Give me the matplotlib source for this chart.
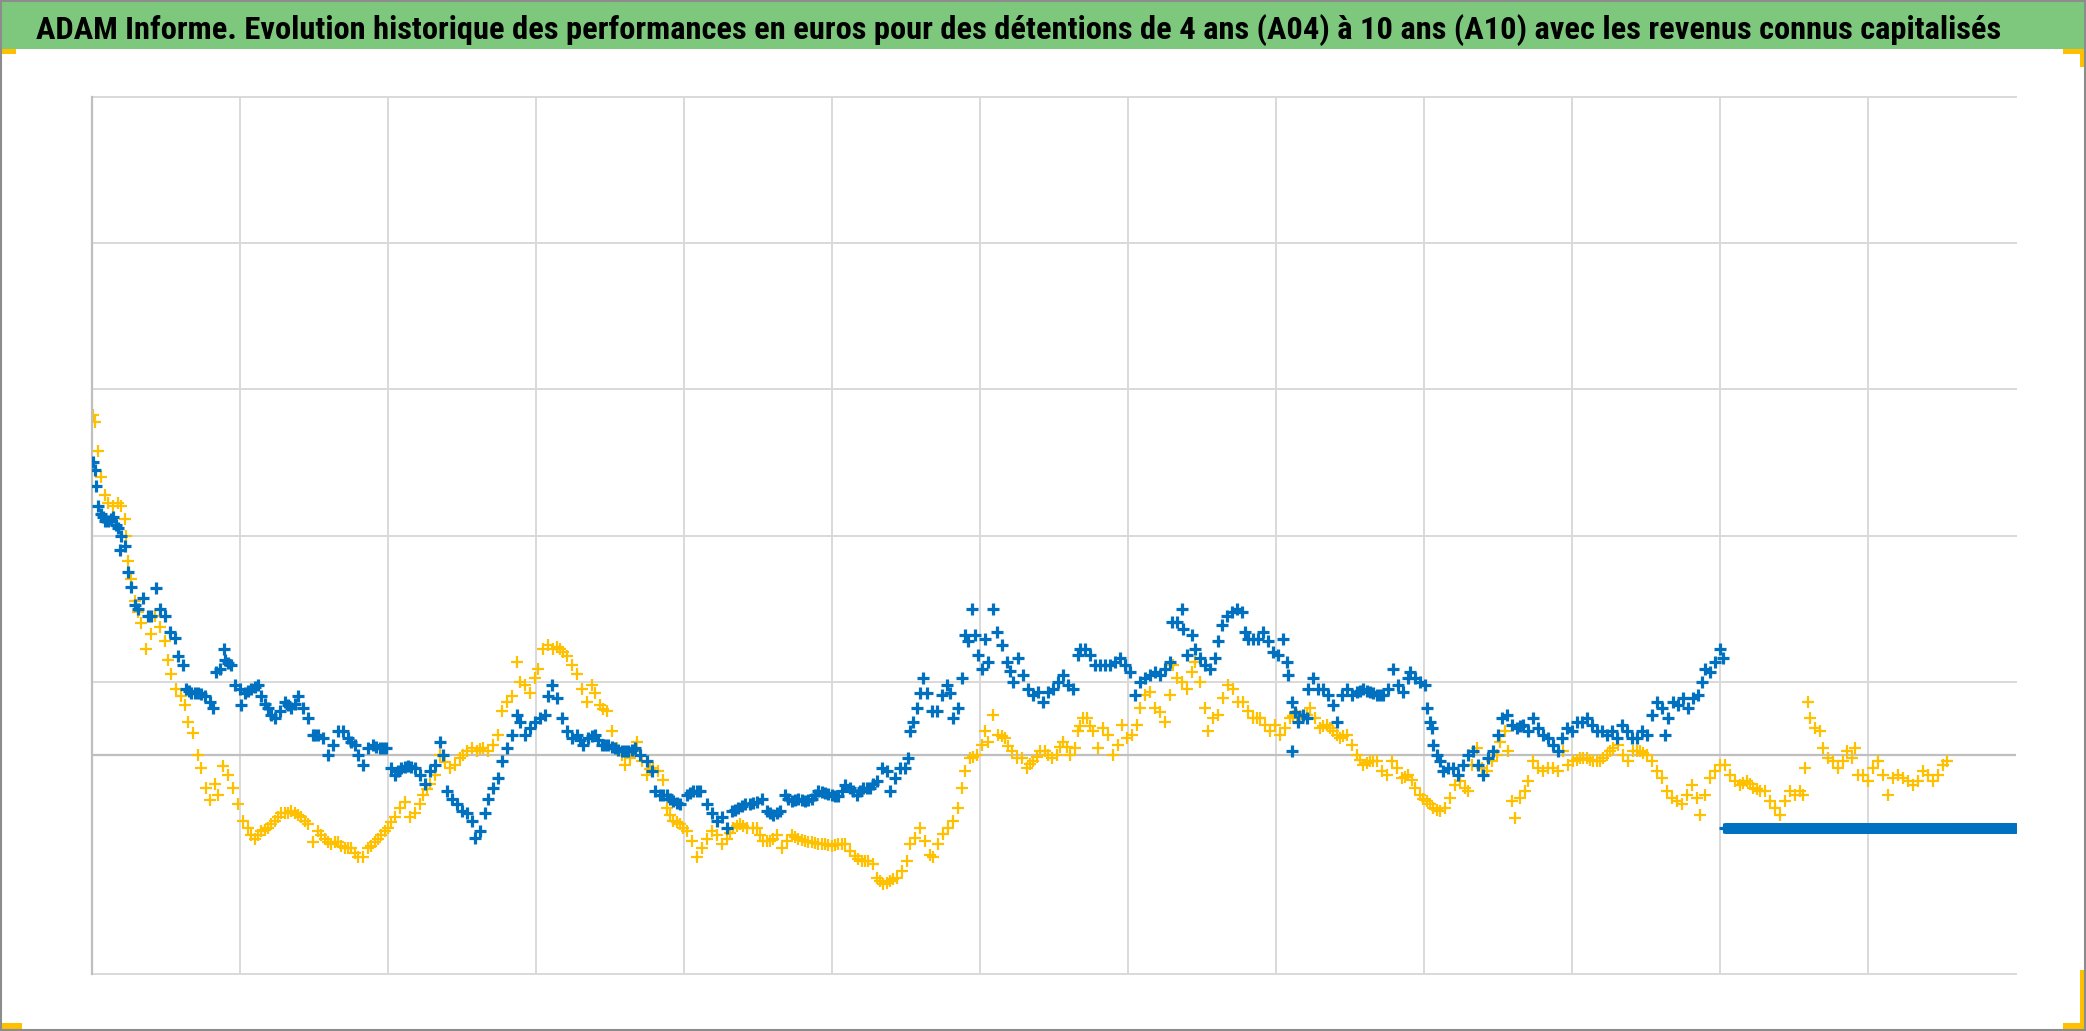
import matplotlib
matplotlib.use("Agg")
import matplotlib.pyplot as plt
from matplotlib.patches import Rectangle
from matplotlib import font_manager
import numpy as np

TITLE = ("ADAM Informe. Evolution historique des performances en euros pour des détentions "
         "de 4 ans (A04) à 10 ans (A10) avec les revenus connus capitalisés")

# x = years since start of history, y = performance in %
YEARS = list(range(1, 13))
Y_GRID = [-60, 20, 60, 100, 140, 180]

# A04 (yellow)
a04 = [
    (0.005, 93), (0.018, 91), (0.041, 83), (0.063, 76), (0.086, 71), (0.108, 69), (0.142, 68),
    (0.176, 69), (0.198, 68), (0.221, 64.5), (0.232, 60), (0.243, 53), (0.266, 48), (0.288, 42),
    (0.311, 39), (0.333, 36), (0.367, 29), (0.401, 33), (0.423, 38), (0.457, 35), (0.491, 31),
    (0.514, 26), (0.536, 22), (0.570, 18), (0.604, 16), (0.626, 13.6), (0.649, 9), (0.682, 6),
    (0.716, 0), (0.739, -3.6), (0.773, -9), (0.795, -12.5), (0.829, -8), (0.851, -11), (0.885, -3),
    (0.919, -5.5), (0.953, -9), (0.986, -13.6), (1.020, -18), (1.054, -20), (1.077, -22), (1.099, -23),
    (1.122, -22), (1.144, -21), (1.167, -20.5), (1.189, -20), (1.212, -19), (1.234, -18), (1.257, -17),
    (1.279, -16), (1.302, -16), (1.324, -16), (1.347, -15.5), (1.369, -16), (1.392, -16.5), (1.414, -17),
    (1.437, -18), (1.459, -19), (1.493, -24), (1.527, -21), (1.550, -22), (1.572, -23), (1.595, -24),
    (1.617, -24.5), (1.640, -24), (1.662, -24), (1.685, -25), (1.707, -25.5), (1.730, -25.5),
    (1.752, -25.5), (1.775, -27), (1.797, -28), (1.831, -28), (1.865, -25.5), (1.888, -25), (1.910, -24),
    (1.933, -23), (1.955, -22), (1.977, -21), (2.000, -20), (2.023, -18.5), (2.045, -17), (2.079, -14.5),
    (2.113, -13), (2.146, -17), (2.180, -16), (2.216, -13.6), (2.239, -11), (2.262, -9.5), (2.284, -8),
    (2.317, -5.5), (2.351, 0), (2.385, -2), (2.419, -3.6), (2.453, -2.7), (2.486, -1), (2.509, 0),
    (2.532, 1), (2.565, 1.8), (2.599, 1), (2.622, 1.5), (2.644, 1.8), (2.678, 1), (2.712, 2.7),
    (2.745, 5.5), (2.768, 12), (2.802, 14.5), (2.836, 16), (2.869, 25.5), (2.892, 20), (2.926, 19),
    (2.959, 17), (2.993, 21), (3.016, 23.6), (3.050, 29), (3.083, 30), (3.117, 29), (3.140, 29.5),
    (3.162, 29), (3.185, 28), (3.207, 27), (3.241, 24.5), (3.275, 22), (3.309, 18), (3.342, 14.5),
    (3.376, 19), (3.399, 17), (3.432, 13.6), (3.455, 12.5), (3.477, 12), (3.511, 6.4), (3.545, 1.8),
    (3.579, 0), (3.601, -2.7), (3.635, -1), (3.658, 1), (3.680, 3.6), (3.714, -1.8), (3.748, -5.5),
    (3.770, -4), (3.793, -3.6), (3.827, -4.5), (3.860, -7), (3.883, -14.5), (3.905, -16.5), (3.928, -18),
    (3.950, -18.5), (3.973, -19), (3.995, -20), (4.018, -21), (4.052, -23.6), (4.086, -28), (4.119, -25.5),
    (4.153, -23), (4.187, -21), (4.221, -22), (4.254, -24.5), (4.288, -23), (4.311, -21.5), (4.333, -20),
    (4.356, -19.5), (4.378, -19), (4.401, -19.5), (4.423, -20), (4.468, -20), (4.491, -20), (4.514, -22),
    (4.536, -23.6), (4.559, -23.6), (4.581, -23.6), (4.604, -23), (4.626, -22), (4.660, -25.5),
    (4.694, -23.6), (4.727, -22), (4.750, -22.5), (4.772, -23), (4.795, -23.3), (4.818, -23.6),
    (4.840, -23.8), (4.863, -24), (4.885, -24.2), (4.908, -24.5), (4.930, -24.5), (4.953, -24.5),
    (4.975, -24.8), (4.998, -25), (5.020, -24.8), (5.043, -24.5), (5.065, -24.5), (5.088, -24.5),
    (5.122, -26.4), (5.155, -27.7), (5.178, -28.5), (5.200, -29), (5.223, -29), (5.245, -29),
    (5.279, -30), (5.302, -33.6), (5.324, -34.5), (5.347, -35.5), (5.370, -35), (5.392, -34.5),
    (5.414, -34), (5.437, -33.6), (5.471, -31.8), (5.505, -29), (5.527, -24.5), (5.561, -22.7),
    (5.595, -20), (5.628, -23.6), (5.662, -27.3), (5.685, -28), (5.719, -24.5), (5.752, -21.8),
    (5.786, -20), (5.820, -18), (5.854, -14.5), (5.876, -9), (5.899, -4.5), (5.932, -1), (5.955, -0.5),
    (5.977, 0), (6.011, 2.7), (6.034, 6.4), (6.056, 3.6), (6.090, 11), (6.124, 5.5), (6.146, 5),
    (6.169, 4.5), (6.192, 2.5), (6.214, 1), (6.248, -1), (6.282, -1), (6.315, -3.6), (6.338, -2.5),
    (6.360, -1.8), (6.383, -0.5), (6.405, 1), (6.439, 1), (6.462, 0), (6.484, -1), (6.518, 0),
    (6.541, 2), (6.563, 3.6), (6.586, 2), (6.608, 0), (6.642, 1.8), (6.664, 6.4), (6.676, 8),
    (6.698, 10), (6.721, 10), (6.743, 8), (6.766, 6.4), (6.800, 1.8), (6.833, 7.3), (6.867, 5.5),
    (6.901, 0), (6.935, 2.7), (6.957, 8.2), (6.991, 4.5), (7.025, 5.5), (7.059, 8.2), (7.081, 12.7),
    (7.115, 16.4), (7.149, 17.3), (7.182, 12.7), (7.216, 11.8), (7.250, 9), (7.284, 16.4), (7.306, 24.5),
    (7.329, 21), (7.363, 20), (7.396, 18), (7.430, 22.7), (7.453, 25.5), (7.487, 20), (7.520, 12.7),
    (7.543, 6.4), (7.577, 10), (7.611, 11), (7.644, 15.5), (7.678, 19), (7.712, 18), (7.746, 14.5),
    (7.779, 14.5), (7.813, 12), (7.847, 10), (7.870, 10), (7.892, 10), (7.926, 8.2), (7.959, 6.4),
    (7.993, 8.2), (8.027, 5.5), (8.061, 7.3), (8.095, 10), (8.118, 10.5), (8.140, 11), (8.163, 10.5),
    (8.185, 10), (8.208, 11), (8.230, 12.7), (8.264, 10), (8.297, 7.3), (8.320, 7.8), (8.342, 8.2),
    (8.365, 7.3), (8.387, 6.4), (8.410, 5.5), (8.432, 4.5), (8.455, 5), (8.477, 5.5), (8.511, 2.7),
    (8.545, 0), (8.568, -1.5), (8.590, -2.7), (8.613, -2.2), (8.635, -1.8), (8.658, -1.8), (8.680, -1.8),
    (8.714, -4.5), (8.748, -5.5), (8.782, -1.8), (8.816, -3.6), (8.849, -6.4), (8.872, -6), (8.894, -5.5),
    (8.917, -7), (8.939, -9), (8.973, -11), (8.995, -12), (9.018, -12.7), (9.040, -13.6), (9.063, -14.5),
    (9.085, -15), (9.108, -15.5), (9.141, -14.5), (9.175, -11.8), (9.209, -8.2), (9.243, -7.3),
    (9.277, -9), (9.299, -10), (9.322, -2.7), (9.355, 1.8), (9.389, -3.6), (9.423, -4.5), (9.457, -1.8),
    (9.491, 0), (9.513, 3.6), (9.547, 6.4), (9.570, 1), (9.592, -12.7), (9.615, -17.3), (9.648, -11.8),
    (9.682, -10), (9.705, -7.3), (9.738, -1.8), (9.772, -3.6), (9.806, -4.5), (9.840, -3.6),
    (9.874, -3.6), (9.907, -4.5), (9.941, 1), (9.975, -2.7), (10.009, -1.8), (10.032, -1.4),
    (10.054, -1), (10.077, -1), (10.099, -1), (10.122, -1.4), (10.144, -1.8), (10.167, -1.8),
    (10.189, -1.8), (10.212, -1), (10.234, 0), (10.257, 1), (10.279, 1.8), (10.313, 2.7), (10.347, 0),
    (10.381, -1.8), (10.414, 1), (10.437, 1), (10.459, 1), (10.482, 0.5), (10.504, 0), (10.538, -1.8),
    (10.572, -4.5), (10.606, -6.4), (10.639, -10), (10.673, -11.8), (10.707, -12.7), (10.741, -13.6),
    (10.775, -11), (10.808, -8.2), (10.842, -11.8), (10.865, -16.4), (10.899, -11), (10.932, -6.4),
    (10.966, -4.5), (11.000, -2.7), (11.034, -2.7), (11.068, -5.5), (11.101, -7.3), (11.135, -8.2),
    (11.158, -7.8), (11.180, -7.3), (11.203, -8), (11.225, -9), (11.248, -9.5), (11.270, -10),
    (11.304, -10), (11.338, -12.7), (11.372, -14.5), (11.405, -16.4), (11.439, -12.7), (11.473, -10),
    (11.507, -11), (11.541, -10), (11.563, -11), (11.574, -3.6), (11.597, 14.5), (11.608, 10),
    (11.642, 7.3), (11.676, 6.4), (11.698, 1.8), (11.732, -1), (11.766, -1.8), (11.799, -3.6),
    (11.833, -1.8), (11.856, 1), (11.890, -1), (11.912, 1.8), (11.935, -5.5), (11.968, -5.5),
    (12.002, -7.3), (12.036, -3.6), (12.070, -1.8), (12.104, -5.5), (12.137, -11), (12.171, -6.4),
    (12.205, -5.5), (12.239, -6.4), (12.273, -7.3), (12.306, -8.2), (12.340, -7.3), (12.374, -4.5),
    (12.408, -5.5), (12.441, -7.3), (12.475, -5.5), (12.509, -2.7), (12.532, -1.8),
]

# A10 (blue)
a10 = [
    (0.005, 80), (0.018, 78), (0.029, 73.6), (0.041, 68), (0.058, 66), (0.074, 65), (0.091, 64),
    (0.108, 64), (0.125, 64.5), (0.142, 65), (0.159, 63), (0.176, 62), (0.187, 56), (0.198, 60),
    (0.221, 57), (0.243, 50), (0.266, 46), (0.288, 41), (0.311, 40), (0.345, 43), (0.378, 38),
    (0.401, 38), (0.435, 45.5), (0.457, 40), (0.491, 38), (0.525, 33.6), (0.559, 32), (0.581, 27),
    (0.615, 24.5), (0.637, 18), (0.654, 17.5), (0.671, 17), (0.694, 17), (0.716, 17), (0.739, 16.5),
    (0.761, 16), (0.795, 14.5), (0.818, 12.7), (0.840, 22.7), (0.863, 23.6), (0.892, 29), (0.901, 26),
    (0.919, 25), (0.941, 24.5), (0.964, 19), (0.998, 18), (1.009, 13.6), (1.032, 17), (1.054, 17.5),
    (1.077, 18), (1.099, 18.5), (1.122, 19), (1.144, 16), (1.167, 14), (1.189, 12.7), (1.212, 11),
    (1.234, 10), (1.268, 12), (1.302, 14.5), (1.325, 13.5), (1.347, 12.7), (1.369, 14), (1.392, 16),
    (1.426, 12.7), (1.459, 10), (1.493, 5.5), (1.510, 5.5), (1.527, 5.5), (1.561, 4.5), (1.595, 0),
    (1.628, 2.7), (1.662, 6.4), (1.696, 6.4), (1.730, 4.5), (1.752, 3.5), (1.775, 2.7), (1.797, 0),
    (1.831, -2.7), (1.865, 1.8), (1.899, 2.7), (1.922, 2.2), (1.944, 1.8), (1.966, 1.8), (1.989, 1.8),
    (2.023, -3.6), (2.045, -5.5), (2.068, -4.5), (2.090, -3.6), (2.113, -3.4), (2.135, -3.2),
    (2.158, -3.4), (2.180, -3.6), (2.216, -5.5), (2.250, -8), (2.284, -4.5), (2.317, -2.7), (2.351, 3.6),
    (2.374, 0), (2.396, -10), (2.430, -12), (2.464, -13.6), (2.498, -15.5), (2.532, -16), (2.565, -18),
    (2.588, -22.7), (2.622, -21), (2.655, -16), (2.678, -12), (2.712, -9), (2.745, -6.4), (2.768, -1.8),
    (2.802, 1.8), (2.836, 5.5), (2.869, 11), (2.892, 9), (2.926, 5.5), (2.959, 7.3), (2.993, 9),
    (3.027, 10), (3.061, 11), (3.083, 16), (3.106, 19), (3.140, 15.5), (3.173, 10), (3.207, 6.4),
    (3.241, 4.5), (3.275, 5.5), (3.298, 4), (3.320, 2.7), (3.354, 4.5), (3.376, 5), (3.399, 5.5),
    (3.421, 4), (3.444, 2.7), (3.466, 2.7), (3.489, 2.7), (3.511, 2.2), (3.534, 1.8), (3.556, 1.4),
    (3.579, 1), (3.601, 1), (3.624, 1), (3.646, 1.4), (3.669, 1.8), (3.703, 0), (3.748, -1.8),
    (3.781, -4.5), (3.804, -10), (3.838, -11), (3.860, -11), (3.883, -11), (3.905, -12), (3.928, -12.7),
    (3.950, -13.2), (3.973, -13.6), (4.018, -11), (4.040, -10.5), (4.063, -10), (4.085, -10),
    (4.108, -10), (4.153, -13.6), (4.187, -16), (4.221, -18), (4.254, -17), (4.288, -20), (4.322, -15.5),
    (4.345, -15), (4.367, -14.5), (4.390, -14), (4.412, -13.6), (4.446, -13.6), (4.468, -13.3),
    (4.491, -13), (4.525, -12), (4.559, -15.5), (4.581, -16), (4.604, -16.4), (4.626, -16),
    (4.649, -15.5), (4.682, -11), (4.705, -12), (4.727, -12.7), (4.750, -12.3), (4.772, -12),
    (4.795, -12.3), (4.818, -12.7), (4.840, -12.3), (4.863, -12), (4.885, -11), (4.908, -10),
    (4.930, -10.3), (4.953, -10.5), (4.975, -10.8), (4.998, -11), (5.020, -11.2), (5.043, -11.4),
    (5.065, -10), (5.088, -8.2), (5.122, -9), (5.145, -10), (5.167, -11), (5.190, -10), (5.212, -9),
    (5.235, -9), (5.257, -9), (5.280, -8), (5.302, -7.3), (5.336, -3.6), (5.369, -4.5), (5.392, -10),
    (5.426, -6.4), (5.459, -3.6), (5.493, -3.6), (5.516, -1), (5.527, 6.4), (5.550, 9), (5.572, 12.7),
    (5.595, 17), (5.617, 21), (5.640, 17), (5.674, 12), (5.707, 12), (5.741, 16.4), (5.775, 19),
    (5.797, 17), (5.820, 10), (5.854, 12.7), (5.876, 21), (5.899, 32.7), (5.921, 31), (5.944, 40),
    (5.966, 32.7), (5.989, 27.3), (6.011, 23.6), (6.034, 31.8), (6.056, 25.5), (6.090, 40),
    (6.113, 33.6), (6.146, 30), (6.180, 25.5), (6.203, 23), (6.225, 20), (6.259, 26.4), (6.293, 21.8),
    (6.327, 18), (6.360, 16.4), (6.394, 17.3), (6.428, 14.5), (6.462, 17.3), (6.495, 18), (6.529, 20),
    (6.563, 21.8), (6.597, 19), (6.631, 18), (6.664, 27.3), (6.676, 29), (6.710, 29), (6.743, 27.3),
    (6.777, 24.5), (6.811, 24.5), (6.845, 24.5), (6.879, 24.5), (6.912, 25.5), (6.946, 26.4),
    (6.980, 24.5), (7.014, 22.7), (7.047, 16.4), (7.081, 20), (7.115, 21), (7.149, 21.8), (7.182, 22.7),
    (7.216, 21.8), (7.250, 23.6), (7.284, 25.5), (7.295, 36.4), (7.329, 36.4), (7.363, 40),
    (7.374, 34.5), (7.396, 27.3), (7.430, 32.7), (7.453, 29), (7.487, 26.4), (7.520, 24.5),
    (7.554, 23.6), (7.588, 26.4), (7.611, 31), (7.633, 35.5), (7.667, 38), (7.701, 39), (7.735, 40),
    (7.768, 39), (7.791, 33.6), (7.813, 31.8), (7.847, 31.8), (7.881, 31.8), (7.915, 33.6), (7.949, 31),
    (7.982, 28), (8.016, 27.3), (8.050, 31.8), (8.073, 25.5), (8.084, 21.8), (8.106, 14.5), (8.110, 1),
    (8.129, 11.8), (8.152, 9), (8.185, 11), (8.208, 10), (8.219, 18), (8.253, 21), (8.286, 18),
    (8.320, 18), (8.354, 16.4), (8.388, 13.6), (8.410, 9), (8.444, 16.4), (8.478, 18), (8.512, 16.4),
    (8.545, 17.3), (8.568, 17.5), (8.590, 18), (8.613, 17.5), (8.635, 17.3), (8.658, 17), (8.680, 16.4),
    (8.703, 16.4), (8.726, 16.4), (8.759, 18), (8.793, 23.6), (8.827, 19), (8.861, 17.3), (8.894, 21),
    (8.905, 22.7), (8.939, 21), (8.973, 20), (9.006, 19), (9.018, 12.7), (9.040, 9), (9.051, 7.3),
    (9.063, 2.7), (9.085, 0), (9.108, -1.8), (9.130, -4.5), (9.164, -3.6), (9.198, -3.6), (9.232, -5.5),
    (9.266, -2.7), (9.299, 0), (9.333, 1), (9.367, -2.7), (9.401, -5.5), (9.434, -1), (9.468, 1),
    (9.502, 5.5), (9.524, 10), (9.558, 11), (9.592, 8.2), (9.626, 7.3), (9.648, 7.8), (9.671, 8.2),
    (9.705, 6.4), (9.738, 10), (9.772, 7.3), (9.806, 5.5), (9.840, 4.5), (9.874, 2.7), (9.907, 1),
    (9.930, 4.5), (9.964, 7.3), (9.998, 6.4), (10.032, 9), (10.065, 9), (10.099, 10), (10.133, 8.2),
    (10.167, 6.4), (10.200, 6.4), (10.234, 5.5), (10.268, 6.4), (10.302, 4.5), (10.335, 8.2),
    (10.369, 6.4), (10.403, 4.5), (10.437, 4.5), (10.471, 6.4), (10.504, 5.5), (10.538, 11),
    (10.572, 14.5), (10.606, 12.7), (10.628, 5.5), (10.651, 10), (10.684, 14.5), (10.718, 13.6),
    (10.752, 15.5), (10.786, 12.7), (10.819, 15.5), (10.853, 16.4), (10.876, 20), (10.898, 23.6),
    (10.932, 22.7), (10.966, 25.5), (11.000, 29), (11.022, 26.4),
]

# after the last known value both series sit on a flat -20 level
FLAT_LEVEL = -20
a10_flat_start, a04_flat_start, flat_end = 11.03, 12.55, 13.0

YELLOW = "#FFC000"
BLUE = "#0070C0"
W, H = 2086, 1031


def px_box(fig, x0, y0, x1, y1, color):
    # rectangle given in pixels from the top-left corner of the image
    fig.patches.append(Rectangle((x0 / W, 1 - y1 / H), (x1 - x0) / W, (y1 - y0) / H,
                                 transform=fig.transFigure, facecolor=color,
                                 edgecolor="none", zorder=5))


def narrowest_title_font(fig):
    # the original uses Calibri Bold; pick the narrowest bold face that is installed
    candidates = [("Liberation Sans Narrow", "normal"), ("Roboto Condensed", "normal"),
                  ("DejaVu Sans", "condensed"), ("Roboto", "normal"), ("Lato", "normal"),
                  ("Liberation Sans", "normal")]
    best, best_w = None, None
    for fam, stretch in candidates:
        fp = font_manager.FontProperties(family=fam, weight="bold", stretch=stretch)
        try:
            path = font_manager.findfont(fp, fallback_to_default=False)
        except Exception:
            continue
        if stretch == "condensed" and "ondensed" not in path:
            continue
        t = fig.text(0, 0, TITLE, fontproperties=fp, fontsize=24)
        fig.canvas.draw()
        w = t.get_window_extent().width
        t.remove()
        if best_w is None or w < best_w:
            best, best_w = fp, w
    return best, best_w


def main():
    fig = plt.figure(figsize=(W / 100, H / 100), dpi=100)

    # title banner
    px_box(fig, 0, 0, W, 49, "#7ec87e")
    fp, w = narrowest_title_font(fig)
    fp.set_size(24 * 1973 / w)
    fig.text(1019 / W, 1 - 39 / H, TITLE, ha="center", va="baseline",
             fontproperties=fp, color="black", zorder=6)

    ax = fig.add_axes([92 / W, 1 - 974 / H, (2016 - 92) / W, (974 - 97) / H])
    ax.set_xlim(0, 13)
    ax.set_ylim(-60, 180)
    for s in ["top", "right", "bottom"]:
        ax.spines[s].set_visible(False)
    ax.spines["left"].set_color("#bfbfbf")
    ax.spines["left"].set_linewidth(1.6)
    ax.set_xticks([])
    ax.set_yticks([])

    for y in Y_GRID:
        ax.axhline(y, color="#d9d9d9", lw=1.4, zorder=0, clip_on=False)
    for x in YEARS:
        ax.axvline(x, color="#d9d9d9", lw=1.4, zorder=0, clip_on=False)
    ax.axhline(0, color="#bfbfbf", lw=1.6, zorder=1)

    yt, yv = zip(*a04)
    bt, bv = zip(*a10)
    days = 1 / 250
    yft = np.arange(a04_flat_start, flat_end, days)
    bft = np.arange(a10_flat_start, flat_end, days)

    ax.plot(yt, yv, "+", color=YELLOW, ms=8.5, mew=1.6, zorder=2)
    ax.plot(yft, [FLAT_LEVEL] * len(yft), "+", color=YELLOW, ms=6.5, mew=1.4, zorder=2)
    ax.plot(bt, bv, "+", color=BLUE, ms=8, mew=2.3, zorder=3)
    ax.plot(bft, [FLAT_LEVEL] * len(bft), "+", color=BLUE, ms=6.5, mew=2.2, zorder=3)

    # selection handles and outer frame
    px_box(fig, 0, 49, 16, 54, YELLOW)
    px_box(fig, 2063, 49, W, 54, YELLOW)
    px_box(fig, 2080, 49, W, 67, YELLOW)
    px_box(fig, 0, 1023, 22, H, YELLOW)
    px_box(fig, 2063, 1023, W, H, YELLOW)
    px_box(fig, 2080, 970, W, H, YELLOW)
    fig.patches.append(Rectangle((0.0005, 0.001), 0.999, 0.998, transform=fig.transFigure,
                                 fill=False, edgecolor="#8c8c8c", lw=1.5, zorder=7))

    fig.savefig("out.png", dpi=100)


if __name__ == "__main__":
    main()
